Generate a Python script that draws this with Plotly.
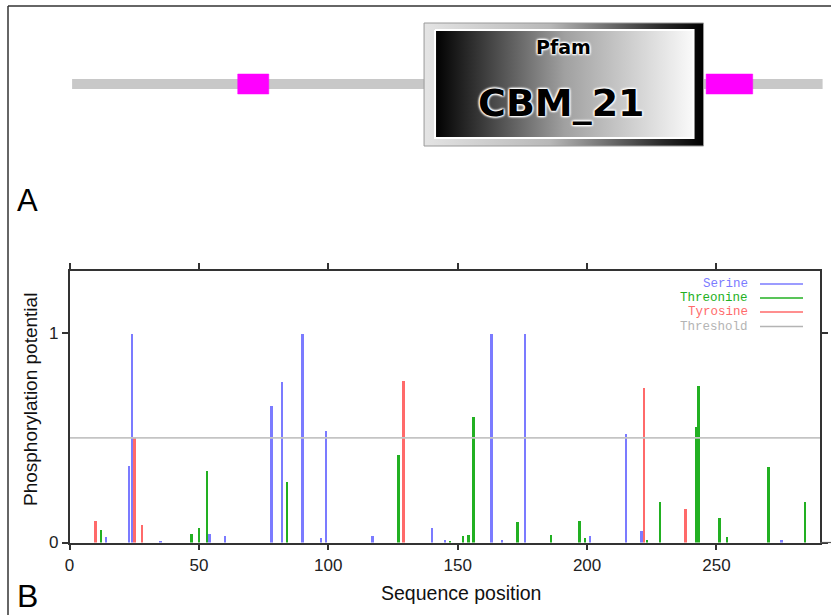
import plotly.graph_objects as go

# ---------------- data ----------------
serine_pos = [14, 23, 24, 35, 54, 60, 78, 82, 90, 97, 99, 117, 140, 145, 163, 167, 176, 201, 215, 221, 275]
serine_val = [0.03, 0.37, 1.0, 0.01, 0.045, 0.032, 0.655, 0.77, 1.0, 0.022, 0.537, 0.032, 0.07, 0.013,
              1.0, 0.014, 1.0, 0.032, 0.52, 0.058, 0.014]

threonine_pos = [12, 47, 50, 53, 84, 127, 147, 152, 154, 156, 173, 186, 197, 199, 223, 228, 242, 243,
                 251, 254, 270, 284]
threonine_val = [0.064, 0.045, 0.07, 0.346, 0.291, 0.42, 0.008, 0.032, 0.04, 0.60, 0.10, 0.04, 0.107,
                 0.022, 0.013, 0.198, 0.555, 0.752, 0.118, 0.027, 0.365, 0.194]

tyrosine_pos = [10, 25, 28, 129, 222, 238]
tyrosine_val = [0.106, 0.50, 0.086, 0.775, 0.74, 0.162]

threshold = 0.5

x_ticks = [0, 50, 100, 150, 200, 250]
y_ticks = [0, 1]
x_range = [0, 290]
y_range = [0, 1.3]

# domain diagram (panel A), in sequence positions
seq_length = 291
low_complexity = [(65, 77), (246, 264)]
pfam_start, pfam_end = 137, 245
pfam_name = "CBM_21"

series_names = ["Serine", "Threonine", "Tyrosine", "Threshold"]
series_colors = ["#7b7bff", "#22b022", "#ff6a6a", "#b4b4b4"]

# ---------------- layout constants (pixels) ----------------
W, H = 831, 615
PX_L, PX_R = 69.5, 820.0        # plot area left/right
PY_T, PY_B = 270.5, 542.5       # plot area top/bottom
scale = (PX_R - PX_L) / (x_range[1] - x_range[0])
x2_range = [x_range[0] - PX_L / scale, x_range[0] + (W - PX_L) / scale]

fig = go.Figure()

# ---------------- panel B: phosphorylation sticks ----------------
for name, pos, val, col in [("Serine", serine_pos, serine_val, series_colors[0]),
                            ("Threonine", threonine_pos, threonine_val, series_colors[1]),
                            ("Tyrosine", tyrosine_pos, tyrosine_val, series_colors[2])]:
    fig.add_trace(go.Bar(x=pos, y=val, name=name, width=0.75, marker=dict(color=col, line=dict(width=0)),
                         showlegend=False, xaxis="x", yaxis="y"))

fig.add_trace(go.Scatter(x=x_range, y=[threshold, threshold], mode="lines",
                         line=dict(color="#c4c4c4", width=1.6), showlegend=False,
                         xaxis="x", yaxis="y"))

# ---------------- panel A: domain diagram ----------------
BAR_Y = 84
fig.add_trace(go.Scatter(x=[1, seq_length], y=[BAR_Y, BAR_Y], mode="lines",
                         line=dict(color="#c8c8c8", width=10), showlegend=False,
                         xaxis="x2", yaxis="y2", hoverinfo="skip"))
for a, b in low_complexity:
    fig.add_trace(go.Scatter(x=[a, b, b, a, a], y=[74, 74, 94, 94, 74], mode="lines", fill="toself",
                             fillcolor="#ff00ff", line=dict(color="#ff00ff", width=0.5),
                             showlegend=False, xaxis="x2", yaxis="y2", hoverinfo="skip"))

fig.add_trace(go.Scatter(x=[pfam_start, pfam_end, pfam_end, pfam_start, pfam_start],
                         y=[23, 23, 146, 146, 23], mode="lines", fill="toself",
                         fillgradient=dict(type="horizontal",
                                           colorscale=[[0, "#e4e4e4"], [0.45, "#b8b8b8"],
                                                       [0.85, "#2a2a2a"], [1, "#000000"]]),
                         line=dict(color="#9a9a9a", width=1), showlegend=False,
                         xaxis="x2", yaxis="y2", hoverinfo="skip"))
ins_l, ins_r = 11 / scale, 10 / scale
fig.add_trace(go.Scatter(x=[pfam_start + ins_l, pfam_end - ins_r, pfam_end - ins_r, pfam_start + ins_l,
                            pfam_start + ins_l],
                         y=[30, 30, 138, 138, 30], mode="lines", fill="toself",
                         fillgradient=dict(type="horizontal",
                                           colorscale=[[0, "#000000"], [0.5, "#a0a0a0"], [1, "#fafafa"]]),
                         line=dict(color="#ffffff", width=2), showlegend=False,
                         xaxis="x2", yaxis="y2", hoverinfo="skip"))

mid = (pfam_start + pfam_end) / 2
glow = "1px 1px 2px #fff, -1px -1px 2px #fff, 1px -1px 2px #fff, -1px 1px 2px #fff"
C = dict(xanchor="center", yanchor="middle", showarrow=False)
annotations = [
    dict(x=mid, y=47, xref="x2", yref="y2", text="<b>Pfam</b>",
         font=dict(family="DejaVu Sans", size=19, color="#000", shadow=glow), **C),
    dict(x=mid - 1, y=103, xref="x2", yref="y2", text="<b>" + pfam_name + "</b>",
         font=dict(family="DejaVu Sans", size=38, color="#000", shadow=glow), **C),
    dict(x=28 / W, y=1 - 200 / H, xref="paper", yref="paper", text="A",
         font=dict(family="Liberation Sans", size=31, color="#000"), **C),
    dict(x=28 / W, y=1 - 596 / H, xref="paper", yref="paper", text="B",
         font=dict(family="Liberation Sans", size=32, color="#000"), **C),
    dict(x=30 / W, y=1 - 400 / H, xref="paper", yref="paper", text="Phosphorylation potential",
         textangle=-90, font=dict(family="Liberation Sans", size=19, color="#111"), **C),
    dict(x=461 / W, y=1 - 593 / H, xref="paper", yref="paper", text="Sequence position",
         font=dict(family="Liberation Sans", size=19.5, color="#111"), **C),
]

shapes = [
    # figure frame (top and left)
    dict(type="line", xref="paper", yref="paper", x0=8 / W, x1=1, y0=1 - 6 / H, y1=1 - 6 / H,
         line=dict(color="#333", width=1.5)),
    dict(type="line", xref="paper", yref="paper", x0=8 / W, x1=8 / W, y0=1 - 6 / H, y1=0,
         line=dict(color="#333", width=1.5)),
    # bottom axis line extension
    dict(type="line", xref="paper", yref="paper", x0=PX_R / W, x1=1, y0=1 - PY_B / H, y1=1 - PY_B / H,
         line=dict(color="#555", width=1.2)),
]

# custom legend (text right-aligned, sample line on the right)
leg_rows = [284, 298, 312, 326.5]
for name, col, yy in zip(series_names, series_colors, leg_rows):
    annotations.append(dict(x=749 / W, y=1 - yy / H, xref="paper", yref="paper", text=name,
                            xanchor="right", yanchor="middle", showarrow=False, borderpad=0,
                            font=dict(family="Liberation Mono", size=12.5, color=col)))
    shapes.append(dict(type="line", xref="paper", yref="paper", x0=760 / W, x1=803 / W,
                       y0=1 - yy / H, y1=1 - yy / H, line=dict(color=col, width=1.6)))

axis_common = dict(showline=True, linecolor="#333", linewidth=1.5, mirror="ticks", ticks="outside",
                   ticklen=6, tickwidth=1.5, tickcolor="#333", showgrid=False, zeroline=False,
                   automargin=False,
                   tickfont=dict(family="Liberation Sans", size=17, color="#222"))

fig.update_layout(
    width=W, height=H,
    margin=dict(l=0, r=0, t=0, b=0, pad=0, autoexpand=False),
    paper_bgcolor="white", plot_bgcolor="rgba(0,0,0,0)",
    barmode="overlay", bargap=0,
    showlegend=False,
    xaxis=dict(domain=[PX_L / W, PX_R / W], range=x_range, tickvals=x_ticks, anchor="y", **axis_common),
    yaxis=dict(domain=[1 - PY_B / H, 1 - PY_T / H], range=y_range, tickvals=y_ticks, anchor="x",
               **axis_common),
    xaxis2=dict(domain=[0, 1], range=x2_range, visible=False, anchor="y2"),
    yaxis2=dict(domain=[0, 1], range=[H, 0], visible=False, anchor="x2"),
    annotations=annotations,
    shapes=shapes,
)

fig.write_html(
    "out.html",
    config={"displayModeBar": False},
    post_script="document.body.style.margin='0px';document.body.style.padding='0px';"
                "document.body.style.overflow='hidden';",
)
